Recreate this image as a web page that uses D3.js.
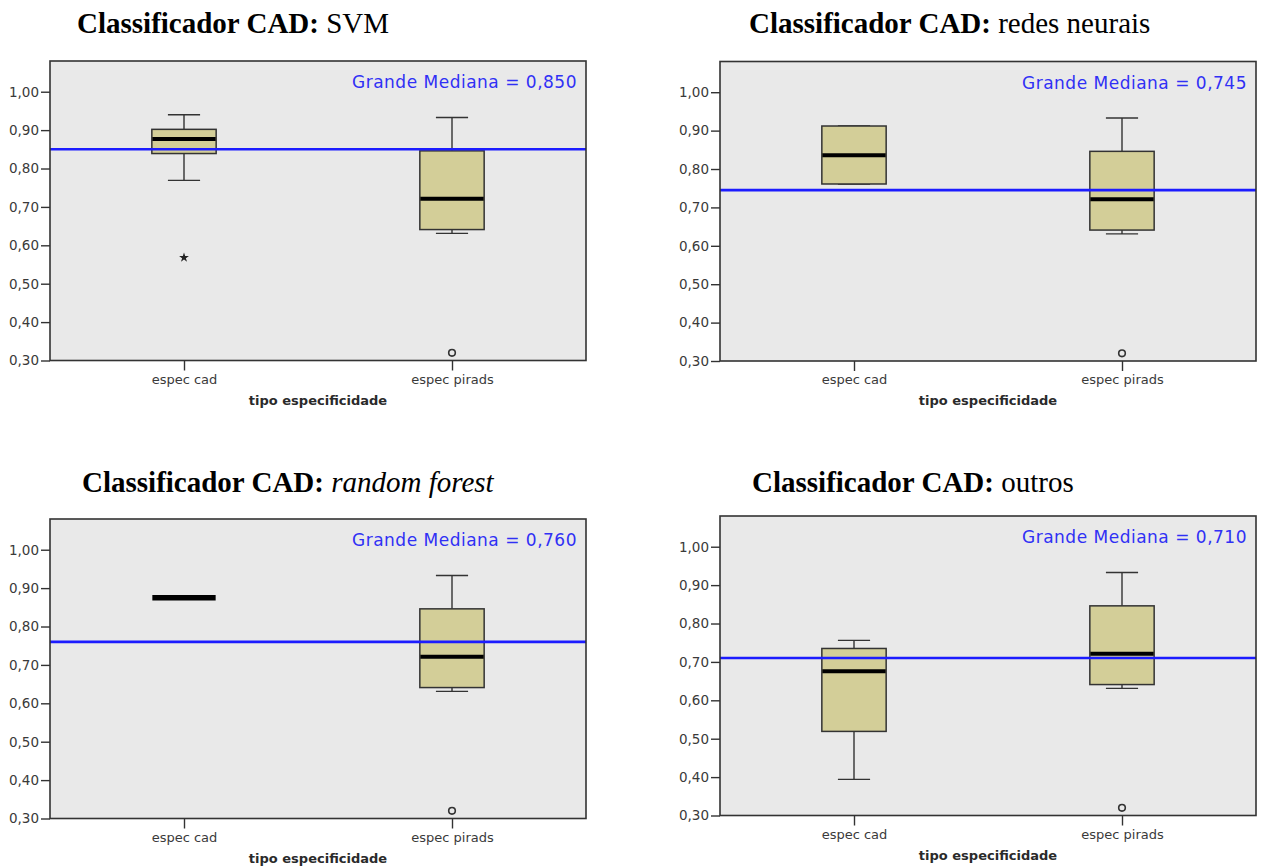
<!DOCTYPE html>
<html>
<head>
<meta charset="utf-8">
<script src="https://cdn.jsdelivr.net/npm/d3@7"></script>
<style>
  body { margin: 0; background: #ffffff; }
  svg { display: block; }
</style>
</head>
<body>
<svg id="chart" width="1262" height="866"></svg>
<script>
// ---- data -------------------------------------------------------------
const categories = ["espec cad", "espec pirads"];
const classifiers = ["SVM", "redes neurais", "random forest", "outros"];
const titleItalic = [false, false, true, false];
const grandMedians = [0.850, 0.745, 0.760, 0.710];

// specificity of the CAD system, one entry per classifier
const cadWhiskerLow  = [0.769, 0.761, 0.875, 0.394];
const cadQ1          = [0.839, 0.761, 0.875, 0.519];
const cadMedian      = [0.877, 0.836, 0.875, 0.676];
const cadQ3          = [0.902, 0.912, 0.875, 0.735];
const cadWhiskerHigh = [0.940, 0.912, 0.875, 0.756];
const cadExtremes    = [[0.568], [], [], []];   // drawn as stars
const cadOutliers    = [[], [], [], []];        // drawn as circles

// specificity of PI-RADS reading, one entry per classifier
const piradsWhiskerLow  = [0.631, 0.631, 0.631, 0.631];
const piradsQ1          = [0.641, 0.641, 0.641, 0.641];
const piradsMedian      = [0.721, 0.721, 0.721, 0.721];
const piradsQ3          = [0.846, 0.846, 0.846, 0.846];
const piradsWhiskerHigh = [0.933, 0.933, 0.933, 0.933];
const piradsExtremes    = [[], [], [], []];
const piradsOutliers    = [[0.320], [0.320], [0.320], [0.320]];

const yTicks = [0.30, 0.40, 0.50, 0.60, 0.70, 0.80, 0.90, 1.00];
const yDomain = [0.30, 1.08];
const xTitle = "tipo especificidade";

// ---- layout -----------------------------------------------------------
const plotW = 536, plotH = 299.5;
const panelOrigin = [[50, 61], [720, 61.5], [50, 519], [720, 516]];
const titlePos = [[77, 33], [749, 33], [82, 492], [752, 492]];

const locale = d3.formatLocale({ decimal: ",", thousands: ".", grouping: [3], currency: ["", ""] });
const fmt2 = locale.format(".2f");
const fmt3 = locale.format(".3f");

const svg = d3.select("#chart");

const sansFont = "'DejaVu Sans', Verdana, sans-serif";
const boxFill = "#d3ce98";
const ink = "#333333";
const refBlue = "#1c1cff";

classifiers.forEach((name, i) => {
  // title
  const t = svg.append("text")
    .attr("x", titlePos[i][0])
    .attr("y", titlePos[i][1])
    .attr("font-family", "'Liberation Serif', 'Times New Roman', serif")
    .attr("font-size", 29)
    .attr("fill", "#000");
  t.append("tspan").attr("font-weight", "bold").text("Classificador CAD:");
  t.append("tspan").attr("font-style", titleItalic[i] ? "italic" : "normal").text(" " + name);

  const g = svg.append("g")
    .attr("transform", `translate(${panelOrigin[i][0]},${panelOrigin[i][1]})`);

  const y = d3.scaleLinear().domain(yDomain).range([plotH, 0]);
  const x = d3.scalePoint().domain(categories).range([0, plotW]).padding(0.5);
  const boxW = plotW * 0.12;
  const capW = boxW / 2;

  // plot background
  g.append("rect")
    .attr("width", plotW).attr("height", plotH)
    .attr("fill", "#e9e9e9");

  // axes
  const yAxis = g.append("g")
    .call(d3.axisLeft(y).tickValues(yTicks).tickSize(9).tickPadding(2).tickFormat(fmt2));
  const xAxis = g.append("g")
    .attr("transform", `translate(0,${plotH})`)
    .call(d3.axisBottom(x).tickSize(10).tickPadding(4));
  [yAxis, xAxis].forEach(a => {
    a.select(".domain").remove();
    a.selectAll(".tick line").attr("stroke", ink).attr("stroke-width", 1.4);
    a.selectAll(".tick text")
      .attr("fill", "#3a3a3a")
      .attr("font-family", sansFont)
      .attr("font-size", 13.5);
  });
  xAxis.selectAll(".tick text").attr("font-size", 13);

  g.append("text")
    .attr("x", plotW / 2)
    .attr("y", plotH + 44)
    .attr("text-anchor", "middle")
    .attr("font-family", sansFont)
    .attr("font-size", 13)
    .attr("font-weight", "bold")
    .attr("fill", "#2a2a2a")
    .text(xTitle);

  // box plots
  const stats = [
    { cat: categories[0], lo: cadWhiskerLow[i], q1: cadQ1[i], med: cadMedian[i], q3: cadQ3[i], hi: cadWhiskerHigh[i],
      extremes: cadExtremes[i], outliers: cadOutliers[i] },
    { cat: categories[1], lo: piradsWhiskerLow[i], q1: piradsQ1[i], med: piradsMedian[i], q3: piradsQ3[i], hi: piradsWhiskerHigh[i],
      extremes: piradsExtremes[i], outliers: piradsOutliers[i] }
  ];

  stats.forEach(s => {
    const cx = x(s.cat);
    const bg = g.append("g");
    // whiskers
    bg.append("line")
      .attr("x1", cx).attr("x2", cx)
      .attr("y1", y(s.q3)).attr("y2", y(s.hi))
      .attr("stroke", ink).attr("stroke-width", 1.4);
    bg.append("line")
      .attr("x1", cx).attr("x2", cx)
      .attr("y1", y(s.q1)).attr("y2", y(s.lo))
      .attr("stroke", ink).attr("stroke-width", 1.4);
    [s.hi, s.lo].forEach(v => {
      bg.append("line")
        .attr("x1", cx - capW / 2).attr("x2", cx + capW / 2)
        .attr("y1", y(v)).attr("y2", y(v))
        .attr("stroke", ink).attr("stroke-width", 1.4);
    });
    // box
    bg.append("rect")
      .attr("x", cx - boxW / 2)
      .attr("y", y(s.q3))
      .attr("width", boxW)
      .attr("height", Math.max(0, y(s.q1) - y(s.q3)))
      .attr("fill", boxFill)
      .attr("stroke", ink)
      .attr("stroke-width", 1.5);
    // median
    bg.append("line")
      .attr("x1", cx - boxW / 2 + 0.5).attr("x2", cx + boxW / 2 - 0.5)
      .attr("y1", y(s.med)).attr("y2", y(s.med))
      .attr("stroke", "#000").attr("stroke-width", s.q1 === s.q3 ? 5.5 : 4);
    // outliers
    s.outliers.forEach(v => {
      bg.append("circle")
        .attr("cx", cx).attr("cy", y(v)).attr("r", 3.3)
        .attr("fill", "none").attr("stroke", ink).attr("stroke-width", 1.6);
    });
    s.extremes.forEach(v => {
      bg.append("path")
        .attr("transform", `translate(${cx},${y(v)})`)
        .attr("d", d3.symbol().type(d3.symbolStar).size(30)())
        .attr("fill", "#222");
    });
  });

  // grand median reference line
  g.append("line")
    .attr("x1", 0).attr("x2", plotW)
    .attr("y1", y(grandMedians[i])).attr("y2", y(grandMedians[i]))
    .attr("stroke", refBlue).attr("stroke-width", 2.6);

  g.append("text")
    .attr("x", plotW - 9)
    .attr("y", 27)
    .attr("text-anchor", "end")
    .attr("font-family", sansFont)
    .attr("font-size", 17)
    .attr("letter-spacing", 0.5)
    .attr("fill", "#3030f5")
    .text("Grande Mediana = " + fmt3(grandMedians[i]));

  // frame
  g.append("rect")
    .attr("width", plotW).attr("height", plotH)
    .attr("fill", "none")
    .attr("stroke", ink).attr("stroke-width", 1.6);
});
</script>
</body>
</html>
